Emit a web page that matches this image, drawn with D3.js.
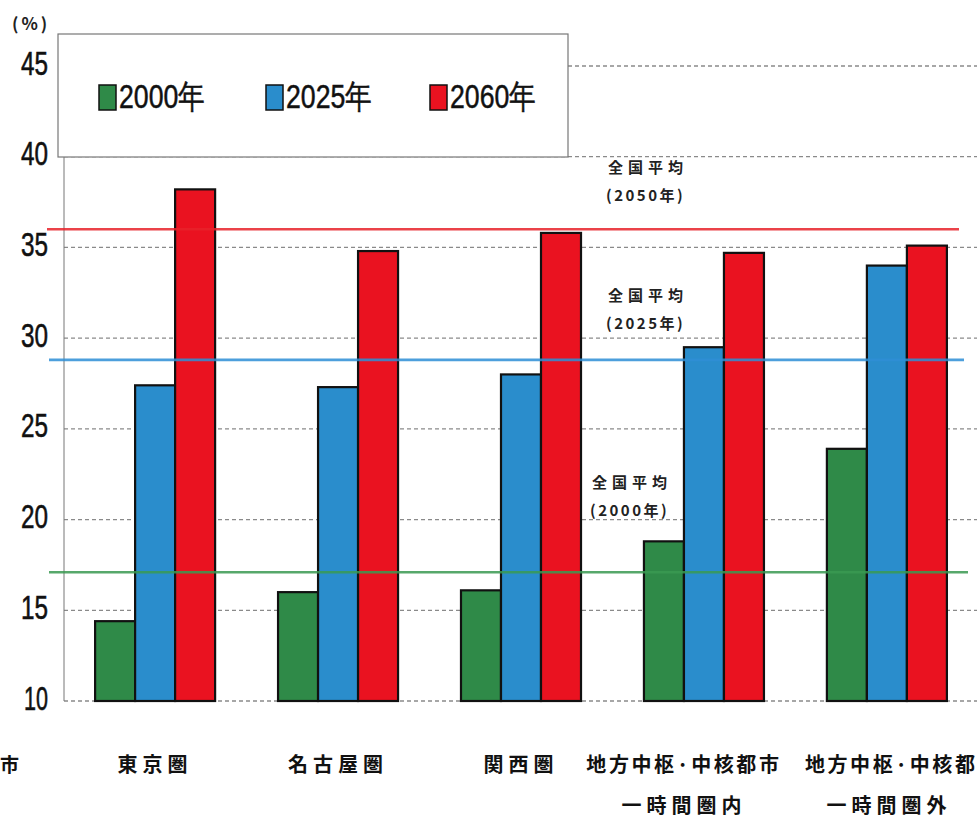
<!DOCTYPE html>
<html><head><meta charset="utf-8">
<script src="https://cdn.jsdelivr.net/npm/d3@7"></script>
<style>
html,body{margin:0;padding:0;background:#fff;}
svg{display:block;}
</style></head>
<body>
<svg id="chart" width="977" height="817"></svg>
<script>
// ---- data ----
const categories = ["東京圏", "名古屋圏", "関西圏", "地方中枢・中核都市一時間圏内", "地方中枢・中核都市一時間圏外"];
const labelLine1 = ["東京圏", "名古屋圏", "関西圏", "地方中枢·中核都市", "地方中枢·中核都"];
const labelLine2 = ["", "", "", "一時間圏内", "一時間圏外"];
const seriesNames = ["2000年", "2025年", "2060年"];
const values2000 = [14.4, 16.0, 16.1, 18.8, 23.9];
const values2025 = [27.4, 27.3, 28.0, 29.5, 34.0];
const values2050 = [38.2, 34.8, 35.8, 34.7, 35.1];
const nationalAvgValues = [17.1, 28.8, 36.0];
const nationalAvgLabels = [["全国平均", "(2000年)"], ["全国平均", "(2025年)"], ["全国平均", "(2050年)"]];
const yTicks = [10, 15, 20, 25, 30, 35, 40, 45];

const colors = ["#2f8a48", "#2a8dcc", "#ea1220"];
const avgColors = ["#3a9a52", "#2f8fd6", "#e8222a"];

const svg = d3.select("#chart");
const series = [values2000, values2025, values2050];

const y = d3.scaleLinear().domain([10, 45]).range([701, 66]);
const x0 = d3.scaleBand().domain(categories).range([64, 978]).paddingInner(0.344).paddingOuter(0.17);
const x1 = d3.scaleBand().domain(seriesNames).range([0, x0.bandwidth()]).padding(0);

// grid lines (dashed)
svg.append("g").selectAll("line").data(yTicks).join("line")
  .attr("x1", 64).attr("x2", 977)
  .attr("y1", d => y(d)).attr("y2", d => y(d))
  .attr("stroke", "#8a8a8a").attr("stroke-width", 1.3)
  .attr("stroke-dasharray", "4,3");

// y axis line
svg.append("line").attr("x1", 64).attr("x2", 64).attr("y1", y(45)).attr("y2", y(10))
  .attr("stroke", "#777").attr("stroke-width", 1);

// tick labels
svg.append("g").selectAll("text").data(yTicks).join("text")
  .attr("x", 48).attr("y", d => y(d) - 3)
  .attr("text-anchor", "end").attr("dominant-baseline", "central")
  .attr("font-family", "Liberation Sans, Arial, sans-serif")
  .attr("font-size", 33).attr("font-weight", 400)
  .attr("textLength", d => d === 10 ? 24 : 27).attr("lengthAdjust", "spacingAndGlyphs")
  .attr("fill", "#111").attr("stroke", "#111").attr("stroke-width", 0.6)
  .text(d => d);

svg.append("text").attr("x", 12).attr("y", 22)
  .attr("dominant-baseline", "central")
  .attr("font-family", "Noto Sans CJK JP, sans-serif").attr("font-size", 17).attr("font-weight", 700)
  .attr("letter-spacing", 3)
  .attr("fill", "#222").text("(%)");

// bars
const groups = svg.append("g").selectAll("g").data(categories).join("g")
  .attr("transform", d => `translate(${x0(d)},0)`);
groups.selectAll("rect").data((d, i) => series.map((s, k) => ({k, v: s[i]}))).join("rect")
  .attr("x", d => x1(seriesNames[d.k]))
  .attr("width", x1.bandwidth())
  .attr("y", d => y(d.v))
  .attr("height", d => y(10) - y(d.v))
  .attr("fill", d => colors[d.k])
  .attr("stroke", "#111").attr("stroke-width", 2.2);

// national average lines
svg.append("g").selectAll("line").data(nationalAvgValues).join("line")
  .attr("x1", (d, i) => [49, 49, 47][i]).attr("x2", (d, i) => [968, 964, 959][i])
  .attr("y1", d => y(d)).attr("y2", d => y(d))
  .attr("stroke", (d, i) => avgColors[i]).attr("stroke-width", 2.6).attr("opacity", 0.85);

// national average labels
const avgLabelPos = [[592, 481], [608, 294], [608, 166]];
nationalAvgLabels.forEach((lines, i) => {
  lines.forEach((t, j) => {
    svg.append("text")
      .attr("x", avgLabelPos[i][0] + (j === 1 ? -2 : 0))
      .attr("y", avgLabelPos[i][1] + j * 28)
      .attr("dominant-baseline", "central")
      .attr("font-family", "Noto Sans CJK JP, sans-serif")
      .attr("font-size", 15).attr("font-weight", 700)
      .attr("letter-spacing", j === 0 ? 5 : 2.5)
      .attr("fill", "#222")
      .text(t);
  });
});

// legend
const lg = svg.append("g");
lg.append("rect").attr("x", 58).attr("y", 34).attr("width", 510).attr("height", 123)
  .attr("fill", "#fff").attr("stroke", "#777").attr("stroke-width", 1.2);
const legX = [99, 266, 430];
seriesNames.forEach((n, i) => {
  lg.append("rect").attr("x", legX[i]).attr("y", 85).attr("width", 17).attr("height", 25)
    .attr("fill", colors[i]).attr("stroke", "#111").attr("stroke-width", 1.5);
  lg.append("text").attr("x", legX[i] + 20).attr("y", 96)
    .attr("dominant-baseline", "central")
    .attr("font-family", "Liberation Sans, Arial, sans-serif").attr("font-size", 33)
    .attr("textLength", 86).attr("lengthAdjust", "spacingAndGlyphs")
    .attr("fill", "#111").attr("stroke", "#111").attr("stroke-width", 0.5).text(n);
});

// category labels
const catFont = "Noto Sans CJK JP, sans-serif";
categories.forEach((c, i) => {
  const cx = x0(c) + x0.bandwidth() / 2;
  const t = svg.append("text").attr("y", 763)
    .attr("dominant-baseline", "central")
    .attr("font-family", catFont).attr("font-size", 20).attr("font-weight", 700)
    .attr("fill", "#111").text(labelLine1[i]);
  if (i < 3) t.attr("x", cx).attr("text-anchor", "middle").attr("letter-spacing", 5);
  else if (i === 3) t.attr("x", cx - 20).attr("text-anchor", "middle").attr("letter-spacing", 2.6);
  else t.attr("x", cx - 82).attr("text-anchor", "start").attr("letter-spacing", 2.6);
  if (labelLine2[i]) {
    svg.append("text").attr("x", cx - (i === 3 ? 22 : 0) + 2).attr("y", 804)
      .attr("text-anchor", "middle").attr("dominant-baseline", "central")
      .attr("font-family", catFont).attr("font-size", 20).attr("font-weight", 700)
      .attr("letter-spacing", 5)
      .attr("fill", "#111").text(labelLine2[i]);
  }
});
// fragment of a previous label visible at the left edge
svg.append("text").attr("x", 0).attr("y", 763).attr("dominant-baseline", "central")
  .attr("font-family", catFont).attr("font-size", 19).attr("font-weight", 700)
  .attr("fill", "#111").text("市");
</script>
</body></html>
